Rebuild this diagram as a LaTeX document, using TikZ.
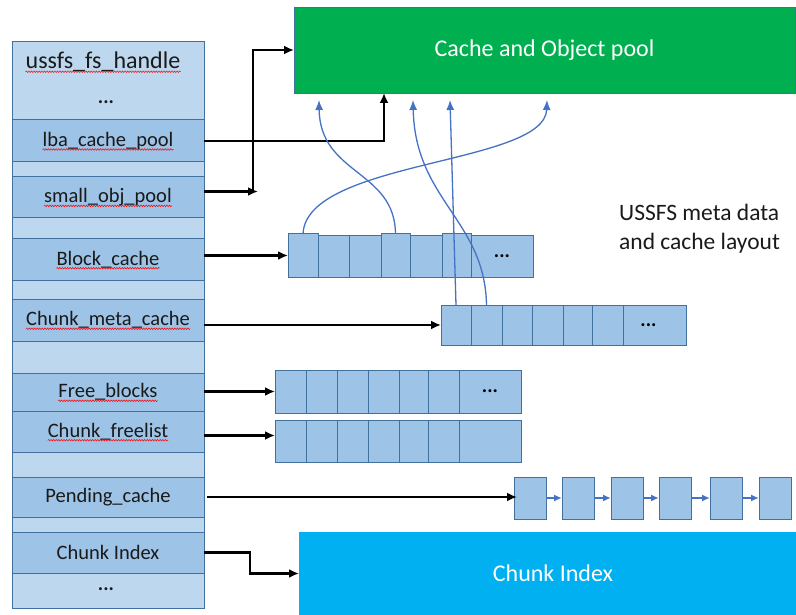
\documentclass[tikz,border=0pt]{standalone}
\usepackage{fontspec}
\setmainfont{Carlito}
\usetikzlibrary{arrows.meta,decorations.pathmorphing}
\definecolor{rowlight}{HTML}{BDD7EE}
\definecolor{rowdark}{HTML}{9DC3E6}
\definecolor{edgeblue}{HTML}{41719C}
\definecolor{poolgreen}{HTML}{00B050}
\definecolor{indexcyan}{HTML}{00B0F0}
\definecolor{linkblue}{HTML}{4472C4}
\definecolor{textdark}{HTML}{1A1A1A}
\begin{document}
\begin{tikzpicture}[x=1pt,y=-1pt,
  colcell/.style={draw=edgeblue,line width=1pt,minimum width=192pt,inner sep=0pt,outer sep=0pt,anchor=north west},
  arrcell/.style={draw=edgeblue,fill=rowdark,line width=1pt,inner sep=0pt,outer sep=0pt,anchor=north west},
  lbl/.style={inner sep=0pt,text=textdark,font=\fontsize{20.5}{24}\selectfont},
  dots/.style={inner sep=0pt,text=black,font=\fontsize{20}{24}\selectfont\bfseries},
  bigbox/.style={inner sep=0pt,outer sep=0pt,anchor=north west,text=white,font=\fontsize{24}{28}\selectfont},
  blk/.style={draw=black,line width=2.3pt,-{Latex[length=10pt,width=9pt]}},
  bl/.style={draw=linkblue,line width=1.3pt,-{Latex[length=10pt,width=8pt]}},
  chain/.style={draw=linkblue,line width=1.6pt,-{Latex[length=8pt,width=7pt]}},
  squig/.style={draw=red,line width=0.5pt,decorate,decoration={snake,amplitude=0.8pt,segment length=2.6pt}}]
\useasboundingbox (0,0) rectangle (796,615);
\clip (0,0) rectangle (796,615);

% handle structure, one row per field
\foreach \n/\t/\b/\c in {r0/42/120/rowlight, r1/120/162/rowdark, r2/162/177/rowlight,
  r3/177/218/rowdark, r4/218/239/rowlight, r5/239/280/rowdark, r6/280/299/rowlight,
  r7/299/341/rowdark, r8/341/373/rowlight, r9/373/411/rowdark, r10/411/452/rowdark,
  r11/452/477/rowlight, r12/477/517/rowdark, r13/517/532/rowlight, r14/532/573/rowdark,
  r15/573/608/rowlight}{
  \pgfmathsetmacro\h{\b-\t}
  \node[colcell,fill=\c,minimum height=\h pt] (\n) at (12,\t) {};
}

\node[lbl,font=\fontsize{24}{28}\selectfont] (t0) at (103,62) {ussfs\_fs\_handle};
\node[lbl,font=\fontsize{20}{24}\selectfont\bfseries] (d0) at (106,102) {...};
\node[lbl] (t1) at (r1) {lba\_cache\_pool};
\node[lbl] (t3) at (r3) {small\_obj\_pool};
\node[lbl] (t5) at (r5) {Block\_cache};
\node[lbl] (t7) at (r7) {Chunk\_meta\_cache};
\node[lbl] (t9) at (r9) {Free\_blocks};
\node[lbl] (t10) at (r10) {Chunk\_freelist};
\node[lbl] (t12) at (r12) {Pending\_cache};
\node[lbl] (t14) at (r14) {Chunk Index};
\node[lbl,font=\fontsize{20}{24}\selectfont\bfseries] (d15) at (106,589) {...};

% spell-check marks under the field names
\foreach \n in {t0,t1,t3,t5,t7,t9,t10}{
  \draw[squig] ([yshift=-3pt]\n.base west) -- ([yshift=-3pt]\n.base east);
}

% big target boxes
\node[bigbox,fill=poolgreen,draw=edgeblue,line width=0.8pt,minimum width=501pt,minimum height=86pt] (pool) at (294,7) {Cache and Object pool};
\node[bigbox,fill=indexcyan,minimum width=508pt,minimum height=83pt] (ci) at (299,532) {Chunk Index};

% block cache array
\foreach \i/\l/\r/\t in {0/288/318/234,1/318/349/236,2/349/381/236,3/381/410/234,
  4/410/442/236,5/442/471/234,6/471/533/236}{
  \pgfmathsetmacro\w{\r-\l}\pgfmathsetmacro\h{277-\t}
  \node[arrcell,minimum width=\w pt,minimum height=\h pt] (b\i) at (\l,\t) {};
}
\node[dots] (bd) at (b6) {...};

% chunk meta cache array
\foreach \i/\l/\r in {0/441/471,1/471/502,2/502/532,3/532/563,4/563/592,5/592/623,6/623/686}{
  \pgfmathsetmacro\w{\r-\l}
  \node[arrcell,minimum width=\w pt,minimum height=40pt] (c\i) at (\l,305) {};
}
\node[dots] (cd) at ([xshift=-6pt]c6.center) {...};

% free blocks and chunk freelist arrays
\foreach \i/\l/\r in {0/275/306,1/306/337,2/337/368,3/368/399,4/399/428,5/428/459,6/459/521}{
  \pgfmathsetmacro\w{\r-\l}
  \node[arrcell,minimum width=\w pt,minimum height=43pt] (f\i) at (\l,370) {};
  \node[arrcell,minimum width=\w pt,minimum height=42pt] (g\i) at (\l,420) {};
}
\node[dots] (fd) at (f6) {...};

% pending list
\foreach \i/\l in {0/514,1/562,2/611,3/659,4/710,5/759}{
  \node[arrcell,minimum width=32pt,minimum height=42pt] (p\i) at (\l,477) {};
}
\foreach \i/\j in {0/1,1/2,2/3,3/4,4/5}{
  \draw[chain] (p\i) -- (p\j);
}

% pointers from the handle
\coordinate (elbow) at ([xshift=49pt,yshift=6pt]r3.east);
\draw[blk] (r1.east) -| ([xshift=90pt]pool.south west);
\draw[blk] ([yshift=6pt]r3.east) -- ([xshift=5pt]elbow);
\draw[blk] (elbow) |- (pool.west);
\draw[blk] (r5.east |- b0.west) -- (b0.west);
\draw[blk] (r7.east |- c0.west) -- (c0.west);
\draw[blk] (r9.east |- f0.west) -- (f0.west);
\draw[blk] ([yshift=-4pt]r10.east) -- ([yshift=-4pt]r10.east -| g0.west);
\draw[blk] ([xshift=3pt]r12.east) -- ([xshift=3pt]r12.east -| p0.west);
\draw[blk] (r14.east) -- ++(46,0) |- (ci.west);

% cached entries living in the pool
\draw[bl] (b0.north) .. controls (306,160) and (545,165) .. ([xshift=253pt,yshift=-7pt]pool.south west);
\draw[bl] (b3.north) .. controls (395,170) and (320,175) .. ([xshift=25pt,yshift=-7pt]pool.south west);
\draw[bl] (c0.north) -- ([xshift=156pt,yshift=-7pt]pool.south west);
\draw[bl] (c1.north) .. controls (485,220) and (415,200) .. ([xshift=119pt,yshift=-7pt]pool.south west);

% caption
\node[inner sep=0pt,anchor=base west,text=textdark,font=\fontsize{23.5}{28}\selectfont] (cap1) at (619,221) {USSFS meta data};
\node[inner sep=0pt,anchor=base west,text=textdark,font=\fontsize{23.5}{28}\selectfont] (cap2) at (619,249) {and cache layout};
\end{tikzpicture}
\end{document}
